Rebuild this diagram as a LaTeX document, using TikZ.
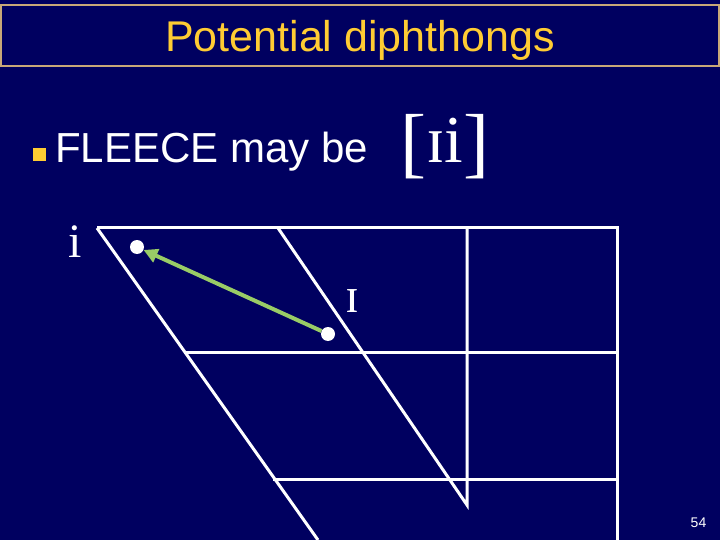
\documentclass[tikz,border=0pt]{standalone}
\usepackage{fontspec}
\setmainfont{Liberation Serif}
\newfontfamily\arialf{Liberation Sans}
\usetikzlibrary{arrows.meta}
\definecolor{navy}{HTML}{000060}
\definecolor{gold}{HTML}{FFCC33}
\definecolor{tan}{HTML}{C8A878}
\definecolor{lgreen}{HTML}{99CC66}
\newcommand{\bigbr}[1]{{\fontsize{78}{80}\selectfont\raisebox{-6pt}{#1}}}
\tikzset{
  chartline/.style={white, line width=3pt},
  vdot/.style={circle, fill=white, inner sep=0pt, minimum size=14pt},
  ipa/.style={text=white, inner sep=0pt, anchor=base, font=\fontsize{48}{56}\selectfont},
}
\begin{document}
\begin{tikzpicture}[x=1pt,y=-1pt]
\useasboundingbox (0,0) rectangle (720,540);
\fill[navy] (0,0) rectangle (720,540);
% title
\draw[tan, line width=1.5pt] (1,5) rectangle (719,66);
\node[anchor=base, inner sep=0pt, text=gold, font=\arialf\fontsize{43}{50}\selectfont] (title) at (360,52) {Potential diphthongs};
% bullet line
\fill[gold] (33,148) rectangle (46,161);
\node[anchor=base west, inner sep=0pt, text=white, font=\arialf\fontsize{42}{50}\selectfont] (fleece) at (55,163) {FLEECE may be};
\node[anchor=base west, inner sep=0pt, text=white, font=\fontsize{67}{70}\selectfont] (trans) at (400,163) {\bigbr{[}ɪi\bigbr{]}};
% chart
\coordinate (tl) at (97,228);
\coordinate (tm) at (278,228);
\coordinate (tv) at (467,228);
\coordinate (tr) at (617,228);
\coordinate (br) at (617,540);
\coordinate (bl) at (318,540);
\coordinate (mv) at (467,505);
\draw[chartline] (tl) -- (tr) -- (br);
\draw[chartline] (tl) -- (bl);
\draw[chartline] (tm) -- (mv) -- (tv);
\draw[chartline] (185,352) -- (617,352);
\draw[chartline] (273,479) -- (617,479);
% labels
\node[ipa] (li) at (75.5,258) {i};
\node[ipa, font=\fontsize{50}{56}\selectfont] (lI) at (352,312) {ɪ};
% dots and arrow
\node[vdot] (di) at (137,247) {};
\node[vdot] (dI) at (328,334) {};
\draw[lgreen, line width=4pt, -{Triangle[length=14pt,width=14pt]}] (dI) -- (di);
% page number
\node[anchor=base, inner sep=0pt, text=white, font=\arialf\fontsize{14}{16}\selectfont] (pg) at (698.5,527) {54};
\end{tikzpicture}
\end{document}
